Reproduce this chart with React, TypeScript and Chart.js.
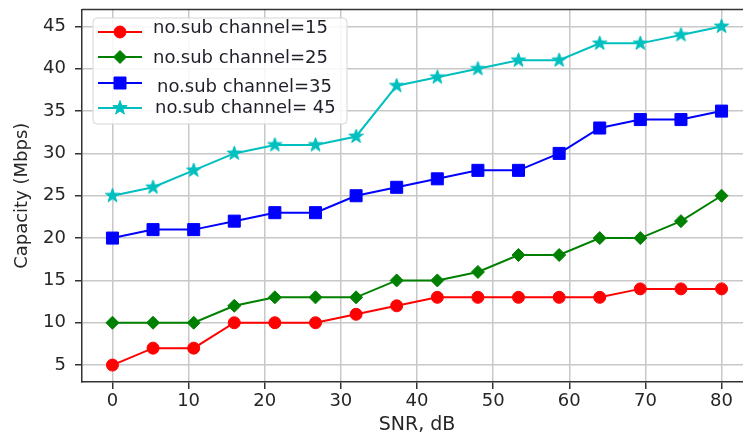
import React, { useEffect, useRef } from 'react';
import { Chart, registerables } from 'chart.js';

Chart.register(...registerables);

const snr = [0, 5.33, 10.67, 16, 21.33, 26.67, 32, 37.33, 42.67, 48, 53.33, 58.67, 64, 69.33, 74.67, 80];
const cap15 = [5, 7, 7, 10, 10, 10, 11, 12, 13, 13, 13, 13, 13, 14, 14, 14];
const cap25 = [10, 10, 10, 12, 13, 13, 13, 15, 15, 16, 18, 18, 20, 20, 22, 25];
const cap35 = [20, 21, 21, 22, 23, 23, 25, 26, 27, 28, 28, 30, 33, 34, 34, 35];
const cap45 = [25, 26, 28, 30, 31, 31, 32, 38, 39, 40, 41, 41, 43, 43, 44, 45];
const seriesLabels = ['no.sub channel=15', 'no.sub channel=25', 'no.sub channel=35', 'no.sub channel= 45'];
const seriesColors = ['#ff0000', '#008000', '#0000ff', '#00bfbf'];
const xTicks = [0, 10, 20, 30, 40, 50, 60, 70, 80];
const yTicks = [5, 10, 15, 20, 25, 30, 35, 40, 45];

const FONT = "'DejaVu Sans', sans-serif";
const TEXT = '#262626';

function drawStar(ctx: CanvasRenderingContext2D, cx: number, cy: number, outer: number, inner: number, color: string) {
  ctx.save();
  ctx.beginPath();
  for (let i = 0; i < 10; i++) {
    const r = i % 2 === 0 ? outer : inner;
    const a = -Math.PI / 2 + (i * Math.PI) / 5;
    const px = cx + r * Math.cos(a);
    const py = cy + r * Math.sin(a);
    if (i === 0) ctx.moveTo(px, py);
    else ctx.lineTo(px, py);
  }
  ctx.closePath();
  ctx.fillStyle = color;
  ctx.strokeStyle = color;
  ctx.lineWidth = 1;
  ctx.fill();
  ctx.stroke();
  ctx.restore();
}

function makeStar(color: string, outer: number, inner: number) {
  const size = Math.ceil(outer * 2 + 4);
  const c = document.createElement('canvas');
  c.width = size;
  c.height = size;
  const ctx = c.getContext('2d')!;
  drawStar(ctx, size / 2, size / 2, outer, inner, color);
  return c;
}

function drawMarker(ctx: CanvasRenderingContext2D, kind: number, x: number, y: number, color: string) {
  if (kind === 3) {
    drawStar(ctx, x, y, 7.5, 3, color);
    return;
  }
  ctx.save();
  ctx.fillStyle = color;
  ctx.strokeStyle = color;
  ctx.lineWidth = 1;
  ctx.beginPath();
  if (kind === 0) {
    ctx.arc(x, y, 6, 0, Math.PI * 2);
  } else if (kind === 1) {
    const r = 6.5;
    ctx.moveTo(x - r, y);
    ctx.lineTo(x, y - r);
    ctx.lineTo(x + r, y);
    ctx.lineTo(x, y + r);
    ctx.closePath();
  } else {
    ctx.rect(x - 6, y - 6, 12, 12);
  }
  ctx.fill();
  ctx.stroke();
  ctx.restore();
}

const legendRows = [
  { lineY: 32, textX: 153, textY: 33 },
  { lineY: 57, textX: 153, textY: 63 },
  { lineY: 83, textX: 157, textY: 92 },
  { lineY: 108, textX: 155, textY: 113 },
];

const framePlugin = {
  id: 'frameAndLegend',
  afterDatasetsDraw(chart: any) {
    const { ctx, chartArea } = chart;
    ctx.save();
    ctx.strokeStyle = '#333';
    ctx.lineWidth = 1.5;
    ctx.beginPath();
    ctx.moveTo(chartArea.left, chartArea.top);
    ctx.lineTo(chartArea.right, chartArea.top);
    ctx.stroke();
    ctx.restore();
  },
  afterDraw(chart: any) {
    const { ctx } = chart;
    ctx.save();
    const bx = 93, by = 18, bw = 254, bh = 106, rr = 4;
    ctx.beginPath();
    ctx.moveTo(bx + rr, by);
    ctx.lineTo(bx + bw - rr, by);
    ctx.quadraticCurveTo(bx + bw, by, bx + bw, by + rr);
    ctx.lineTo(bx + bw, by + bh - rr);
    ctx.quadraticCurveTo(bx + bw, by + bh, bx + bw - rr, by + bh);
    ctx.lineTo(bx + rr, by + bh);
    ctx.quadraticCurveTo(bx, by + bh, bx, by + bh - rr);
    ctx.lineTo(bx, by + rr);
    ctx.quadraticCurveTo(bx, by, bx + rr, by);
    ctx.closePath();
    ctx.fillStyle = 'rgba(255,255,255,0.85)';
    ctx.fill();
    ctx.strokeStyle = '#d6d6d6';
    ctx.lineWidth = 1;
    ctx.stroke();

    chart.data.datasets.forEach((ds: any, i: number) => {
      const row = legendRows[i];
      ctx.strokeStyle = ds.borderColor;
      ctx.lineWidth = 2;
      ctx.beginPath();
      ctx.moveTo(98, row.lineY);
      ctx.lineTo(142, row.lineY);
      ctx.stroke();
      drawMarker(ctx, i, 120, row.lineY, ds.borderColor);
      ctx.fillStyle = '#1f1f2a';
      ctx.font = `18px ${FONT}`;
      ctx.textAlign = 'left';
      ctx.textBaseline = 'alphabetic';
      ctx.fillText(ds.label, row.textX, row.textY);
    });
    ctx.restore();
  },
};

export default function App() {
  const ref = useRef<HTMLCanvasElement | null>(null);

  useEffect(() => {
    if (!ref.current) return;
    const star = makeStar(seriesColors[3], 7.5, 3);
    const series = [cap15, cap25, cap35, cap45];
    const styles: any[] = ['circle', 'rectRot', 'rect', star];
    const radii = [6, 6.5, 8.5, 8];
    const chart = new Chart(ref.current, {
      type: 'line',
      data: {
        datasets: series.map((vals, i) => ({
          label: seriesLabels[i],
          data: vals.map((v, j) => ({ x: snr[j], y: v })),
          borderColor: seriesColors[i],
          backgroundColor: seriesColors[i],
          pointBackgroundColor: seriesColors[i],
          pointBorderColor: seriesColors[i],
          pointBorderWidth: 1,
          borderWidth: 2,
          pointStyle: styles[i],
          pointRadius: radii[i],
          tension: 0,
          fill: false,
          clip: 10,
        })),
      },
      options: {
        animation: false,
        responsive: false,
        devicePixelRatio: 1,
        events: [],
        layout: { padding: { top: 9, right: 48, bottom: 0, left: 0 } },
        plugins: {
          legend: { display: false },
          tooltip: { enabled: false },
          title: { display: false },
        },
        scales: {
          x: {
            type: 'linear',
            min: -4,
            max: 84,
            afterBuildTicks: (s: any) => {
              s.ticks = xTicks.map((v) => ({ value: v }));
            },
            afterFit: (s: any) => {
              s.height = 53;
              s.paddingLeft = 0;
              s.paddingRight = 0;
            },
            ticks: {
              font: { family: FONT, size: 18 },
              color: TEXT,
              padding: 2,
              maxRotation: 0,
            },
            grid: {
              color: '#c8c8c8',
              lineWidth: 1.5,
              tickLength: 7,
              tickColor: '#333',
              tickWidth: 1.5,
            },
            border: { display: true, color: '#333', width: 1.5 },
            title: {
              display: true,
              text: 'SNR, dB',
              color: TEXT,
              font: { family: FONT, size: 19, lineHeight: 1 },
              padding: { top: 0, bottom: 0 },
            },
          },
          y: {
            type: 'linear',
            min: 3,
            max: 47,
            afterBuildTicks: (s: any) => {
              s.ticks = yTicks.map((v) => ({ value: v }));
            },
            afterFit: (s: any) => {
              s.width = 82;
              s.paddingTop = 0;
              s.paddingBottom = 0;
            },
            ticks: {
              font: { family: FONT, size: 18 },
              color: TEXT,
              padding: 9,
            },
            grid: {
              color: '#c8c8c8',
              lineWidth: 1.5,
              tickLength: 7,
              tickColor: '#333',
              tickWidth: 1.5,
            },
            border: { display: true, color: '#333', width: 1.5 },
            title: {
              display: true,
              text: 'Capacity (Mbps)',
              color: TEXT,
              font: { family: FONT, size: 18, lineHeight: 1 },
              padding: { top: 13, bottom: 0 },
            },
          },
        },
      },
      plugins: [framePlugin],
    });
    return () => chart.destroy();
  }, []);

  return (
    <div
      style={{
        position: 'fixed',
        left: 0,
        top: 0,
        width: 743,
        height: 435,
        overflow: 'hidden',
        background: '#fff',
      }}
    >
      <canvas ref={ref} width={800} height={435} style={{ display: 'block' }} />
    </div>
  );
}
